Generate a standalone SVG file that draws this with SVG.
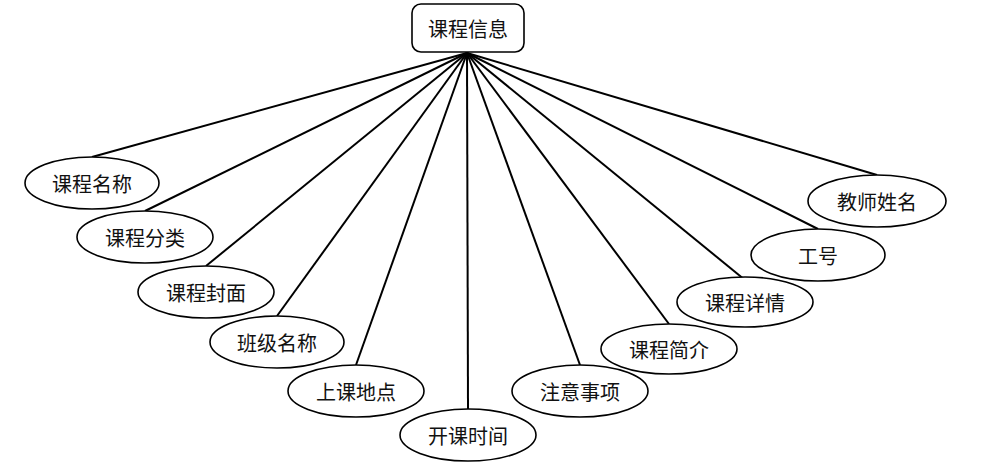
<svg xmlns="http://www.w3.org/2000/svg" width="984" height="476" viewBox="0 0 984 476">
<style>
.n{fill:#fff;stroke:#000;stroke-width:1.6}
.t{font-family:"Noto Sans CJK SC","Noto Sans",sans-serif;font-size:20px;fill:#111;text-anchor:middle;dominant-baseline:central}
.c line{stroke:#000;stroke-width:2}
</style>
<rect width="984" height="476" fill="#fff"/>
<g class="c" id="connectors">
<line x1="467" y1="53" x2="92" y2="157"/>
<line x1="467" y1="53" x2="145" y2="211"/>
<line x1="467" y1="53" x2="206" y2="266"/>
<line x1="467" y1="53" x2="277" y2="316"/>
<line x1="467" y1="53" x2="356" y2="365"/>
<line x1="467" y1="53" x2="468" y2="409"/>
<line x1="467" y1="53" x2="580" y2="365"/>
<line x1="467" y1="53" x2="669" y2="324"/>
<line x1="467" y1="53" x2="745" y2="280"/>
<line x1="467" y1="53" x2="818" y2="229"/>
<line x1="467" y1="53" x2="877" y2="175"/>
</g>
<g id="root"><rect class="n" x="412" y="4" width="112" height="48" rx="9"/><text class="t" x="468" y="28">课程信息</text></g>
<g id="n1"><ellipse class="n" cx="92" cy="183" rx="67" ry="26"/><text class="t" x="92" y="183">课程名称</text></g>
<g id="n2"><ellipse class="n" cx="145" cy="237" rx="68" ry="26"/><text class="t" x="145" y="237">课程分类</text></g>
<g id="n3"><ellipse class="n" cx="206" cy="292" rx="68" ry="26"/><text class="t" x="206" y="292">课程封面</text></g>
<g id="n4"><ellipse class="n" cx="277" cy="342" rx="67" ry="26"/><text class="t" x="277" y="342">班级名称</text></g>
<g id="n5"><ellipse class="n" cx="356" cy="391" rx="68" ry="26"/><text class="t" x="356" y="391">上课地点</text></g>
<g id="n6"><ellipse class="n" cx="468" cy="435" rx="68" ry="26"/><text class="t" x="468" y="435">开课时间</text></g>
<g id="n7"><ellipse class="n" cx="580" cy="391" rx="68" ry="26"/><text class="t" x="580" y="391">注意事项</text></g>
<g id="n8"><ellipse class="n" cx="669" cy="349" rx="68" ry="25"/><text class="t" x="669" y="349">课程简介</text></g>
<g id="n9"><ellipse class="n" cx="745" cy="302" rx="68" ry="25"/><text class="t" x="745" y="302">课程详情</text></g>
<g id="n10"><ellipse class="n" cx="818" cy="255" rx="67" ry="26"/><text class="t" x="818" y="255">工号</text></g>
<g id="n11"><ellipse class="n" cx="877" cy="201" rx="69" ry="26"/><text class="t" x="877" y="201">教师姓名</text></g>
</svg>
